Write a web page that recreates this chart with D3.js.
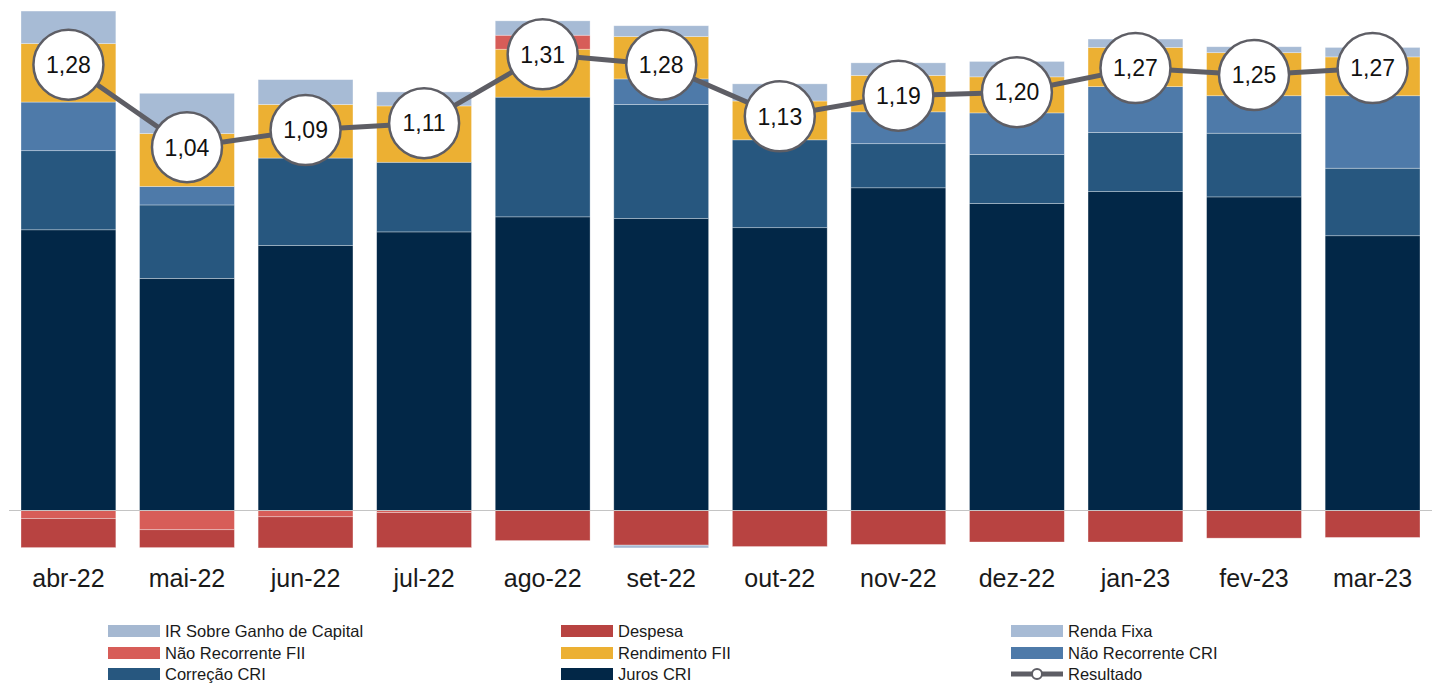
<!DOCTYPE html>
<html>
<head>
<meta charset="utf-8">
<script src="https://cdn.jsdelivr.net/npm/d3@7"></script>
<style>
  body { margin: 0; background: #fff; }
  svg text { font-family: "Liberation Sans", Arial, Helvetica, sans-serif; }
</style>
</head>
<body>
<svg id="chart" width="1435" height="684"></svg>
<script>
// categories
const months = ["abr-22","mai-22","jun-22","jul-22","ago-22","set-22","out-22","nov-22","dez-22","jan-23","fev-23","mar-23"];

// series values (R$/cota)
const jurosCRI      = [0.802,0.663,0.757,0.796,0.839,0.834,0.808,0.922,0.877,0.911,0.896,0.785];
const correcaoCRI   = [0.226,0.210,0.250,0.199,0.342,0.326,0.251,0.126,0.140,0.169,0.182,0.193];
const naoRecCRI     = [0.139,0.053,0,0,0,0.073,0,0.091,0.119,0.131,0.107,0.207];
const rendimentoFII = [0.167,0.151,0.153,0.161,0.137,0.121,0.111,0.104,0.103,0.112,0.123,0.111];
const naoRecFII     = [-0.023,-0.055,-0.018,-0.006,0.040,0,0,0,0,0,0,0];
const rendaFixa     = [0.093,0.115,0.071,0.040,0.041,0.031,0.049,0.036,0.044,0.024,0.017,0.027];
const despesa       = [-0.083,-0.051,-0.089,-0.100,-0.086,-0.099,-0.103,-0.097,-0.090,-0.090,-0.079,-0.077];
const irGanho       = [0,0,0,0,0,-0.008,0,0,0,0,0,0];
const resultado     = [1.28,1.04,1.09,1.11,1.31,1.28,1.13,1.19,1.20,1.27,1.25,1.27];

const seriesDefs = [
  {key: "Juros CRI", values: jurosCRI, color: "#022747"},
  {key: "Correção CRI", values: correcaoCRI, color: "#27577f"},
  {key: "Não Recorrente CRI", values: naoRecCRI, color: "#4e7aa9"},
  {key: "Rendimento FII", values: rendimentoFII, color: "#ecb033"},
  {key: "Não Recorrente FII", values: naoRecFII, color: "#d75d58"},
  {key: "Renda Fixa", values: rendaFixa, color: "#a7bbd5"},
  {key: "Despesa", values: despesa, color: "#b84341"},
  {key: "IR Sobre Ganho de Capital", values: irGanho, color: "#a5b8d1"}
];

// legend order (row-major, 3 columns)
const legendOrder = ["IR Sobre Ganho de Capital","Despesa","Renda Fixa","Não Recorrente FII","Rendimento FII","Não Recorrente CRI","Correção CRI","Juros CRI","Resultado"];

const svg = d3.select("#chart");

const table = months.map((m, i) => {
  const row = {month: m};
  seriesDefs.forEach(s => row[s.key] = s.values[i]);
  return row;
});

const x = d3.scaleBand().domain(months).range([21, 1420]).paddingInner(0.2).paddingOuter(0);
const y = d3.scaleLinear().domain([0, 1]).range([510.5, 160.5]);
const yLine = d3.scaleLinear().domain([0, 1]).range([505, 161]);

const stack = d3.stack()
  .keys(seriesDefs.map(s => s.key))
  .offset(d3.stackOffsetDiverging);
const stacked = stack(table);
const colorOf = d3.scaleOrdinal().domain(seriesDefs.map(s => s.key)).range(seriesDefs.map(s => s.color));

// bars
svg.append("g").selectAll("g")
  .data(stacked)
  .join("g")
    .attr("fill", d => colorOf(d.key))
  .selectAll("rect")
  .data(d => d.filter(p => p[1] - p[0] !== 0))
  .join("rect")
    .attr("x", d => x(d.data.month))
    .attr("width", x.bandwidth())
    .attr("y", d => y(d[1]))
    .attr("height", d => y(d[0]) - y(d[1]))
    .attr("stroke", "rgba(255,255,255,0.45)")
    .attr("stroke-width", 0.7);

// zero line
svg.append("line")
  .attr("x1", 9).attr("x2", 1432)
  .attr("y1", y(0)).attr("y2", y(0))
  .attr("stroke", "#c4c4c4")
  .attr("stroke-width", 1.2);

// category labels
const xAxis = d3.axisBottom(x).tickSize(0).tickPadding(0);
const ax = svg.append("g")
  .attr("transform", "translate(0,570)")
  .call(xAxis);
ax.select(".domain").remove();
ax.selectAll("text")
  .attr("font-size", 25)
  .attr("fill", "#1a1a1a")
  .attr("dy", "0.66em")
  .style("font-family", "'Liberation Sans', Arial, sans-serif");

// result line
const cx = m => x(m) + x.bandwidth() / 2;
const line = d3.line().x((d, i) => cx(months[i])).y(d => yLine(d));
svg.append("path")
  .datum(resultado)
  .attr("fill", "none")
  .attr("stroke", "#5e5e65")
  .attr("stroke-width", 5)
  .attr("stroke-linejoin", "round")
  .attr("d", line);

const pts = svg.append("g").selectAll("g")
  .data(resultado)
  .join("g")
    .attr("transform", (d, i) => `translate(${cx(months[i])},${yLine(d)})`);
pts.append("circle")
  .attr("r", 35)
  .attr("fill", "#fff")
  .attr("stroke", "#5e5e65")
  .attr("stroke-width", 2.5);
pts.append("text")
  .attr("text-anchor", "middle")
  .attr("dy", "0.36em")
  .attr("font-size", 23)
  .attr("fill", "#111")
  .text(d => d3.format(".2f")(d).replace(".", ","));

// legend
const legCols = [108, 561, 1011];
const legRows = [631, 653, 674];
const leg = svg.append("g").selectAll("g")
  .data(legendOrder)
  .join("g")
    .attr("transform", (d, i) => `translate(${legCols[i % 3]},${legRows[Math.floor(i / 3)]})`);
leg.each(function(k) {
  const g = d3.select(this);
  if (k === "Resultado") {
    g.append("line").attr("x1", 0).attr("x2", 52).attr("y1", 0).attr("y2", 0)
      .attr("stroke", "#5e5e65").attr("stroke-width", 5);
    g.append("circle").attr("cx", 26).attr("r", 5)
      .attr("fill", "#fff").attr("stroke", "#5e5e65").attr("stroke-width", 2);
  } else {
    g.append("rect").attr("x", 0).attr("y", -6).attr("width", 52).attr("height", 12)
      .attr("fill", colorOf(k));
  }
  g.append("text")
    .attr("x", 57)
    .attr("dy", "0.34em")
    .attr("font-size", 16.5)
    .attr("fill", "#1a1a1a")
    .text(k);
});
</script>
</body>
</html>
